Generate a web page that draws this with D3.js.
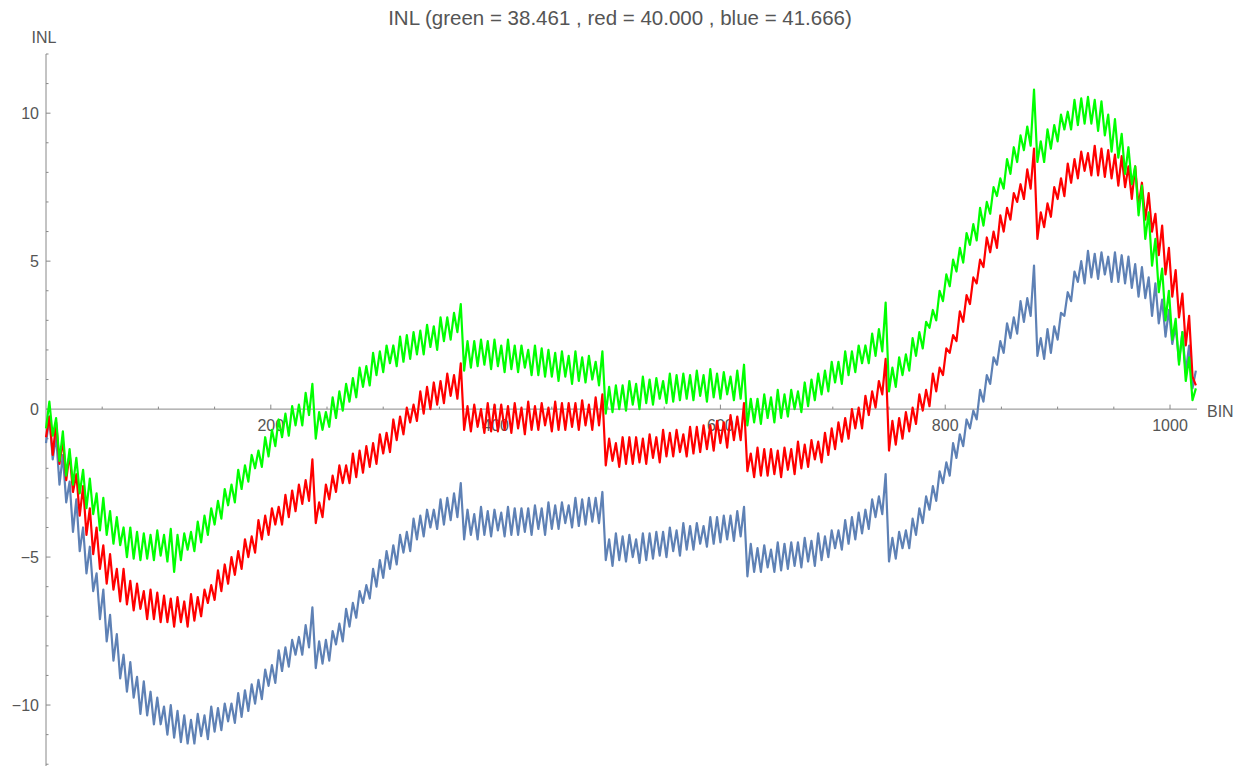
<!DOCTYPE html>
<html>
<head>
<meta charset="utf-8">
<style>
  body { margin: 0; background: #fff; }
  svg { display: block; font-family: "Liberation Sans", Arial, sans-serif; }
</style>
</head>
<body>
<svg id="chart"></svg>
<script src="https://d3js.org/d3.v7.min.js"></script>
<script>
const title = "INL (green = 38.461 , red = 40.000 , blue = 41.666)";
const xLabel = "BIN";
const yLabel = "INL";
const binStep = 3;   // one sample every 3 bins, 0..1023
const xTicks = [200, 400, 600, 800, 1000];
const yTicks = [-10, -5, 0, 5, 10];

const blue = [
  -1.15,-0.25,-1.7,-0.9,-2.55,-1.55,-3.15,-2.45,-4.15,-3.05,-4.8,-4,-5.55,-4.65,-6.15,-5.55,-7.1,-6.1,-7.85,-6.95,
  -8.5,-7.6,-9.1,-8.3,-9.55,-8.55,-9.75,-9.05,-10.3,-9.2,-10.35,-9.55,-10.65,-9.75,-10.65,-10.05,-11,-10,-11.1,-10.2,
  -11.25,-10.35,-11.3,-10.5,-11.3,-10.3,-11.05,-10.35,-11.15,-10.05,-10.9,-10.1,-10.85,-9.95,-10.55,-9.95,-10.6,-9.6,-10.4,-9.5,
  -10.2,-9.3,-9.95,-9.15,-9.8,-8.8,-9.35,-8.65,-9.25,-8.15,-8.85,-8.05,-8.7,-7.8,-8.3,-7.7,-8.3,-7.3,-8.05,-6.7,
  -8.75,-7.85,-8.6,-7.8,-8.5,-7.5,-7.95,-7.25,-7.85,-6.75,-7.35,-6.55,-7.05,-6.15,-6.55,-5.95,-6.4,-5.4,-6,-5.1,
  -5.7,-4.8,-5.4,-4.6,-5.25,-4.25,-4.85,-4.15,-4.8,-3.7,-4.4,-3.6,-4.3,-3.4,-4,-3.4,-4.05,-3.05,-3.9,-3,
  -3.75,-2.85,-3.65,-2.5,-4.4,-3.4,-4.25,-3.55,-4.4,-3.3,-4.25,-3.45,-4.3,-3.4,-4.1,-3.5,-4.3,-3.3,-4.25,-3.35,
  -4.25,-3.35,-4.15,-3.35,-4.25,-3.25,-4.05,-3.35,-4.25,-3.15,-4.05,-3.25,-4.05,-3.15,-3.85,-3.25,-4,-3,-3.95,-3.05,
  -3.9,-3,-3.8,-3,-3.85,-2.8,-5.1,-4.4,-5.3,-4.2,-5.1,-4.3,-5.15,-4.25,-5,-4.4,-5.2,-4.2,-5.1,-4.2,
  -5.05,-4.15,-4.95,-4.15,-5,-4,-4.8,-4.1,-4.95,-3.85,-4.75,-3.95,-4.75,-3.85,-4.55,-3.95,-4.65,-3.65,-4.55,-3.65,
  -4.5,-3.6,-4.4,-3.6,-4.45,-3.45,-4.3,-3.3,-5.65,-4.55,-5.5,-4.7,-5.5,-4.6,-5.35,-4.75,-5.5,-4.5,-5.45,-4.55,
  -5.4,-4.5,-5.3,-4.5,-5.35,-4.35,-5.15,-4.45,-5.3,-4.2,-5.1,-4.3,-5,-4.1,-4.7,-4.1,-4.75,-3.75,-4.55,-3.65,
  -4.4,-3.5,-4.2,-3.4,-4.05,-3.05,-3.65,-2.95,-3.55,-2.2,-5.15,-4.35,-5.05,-4.15,-4.7,-4.1,-4.7,-3.7,-4.25,-3.35,
  -3.85,-2.95,-3.4,-2.6,-3.1,-2.1,-2.5,-1.8,-2.25,-1.15,-1.65,-0.85,-1.25,-0.35,-0.65,-0.05,-0.35,0.65,0.25,1.15,
  0.85,1.75,1.5,2.3,1.9,2.9,2.4,3.1,2.55,3.65,2.95,3.75,3.15,4.85,1.8,2.4,1.7,2.7,1.9,2.8,
  2.35,3.25,3.15,3.95,3.65,4.65,4.3,5,4.25,5.35,4.45,5.25,4.4,5.3,4.55,5.15,4.3,5.3,4.3,5.2,
  4.25,5.15,4.1,4.9,3.8,4.8,3.75,4.45,3.15,4.25,2.9,3.7,2.45,3.35,2.2,2.8,1.6,2.6,1.25,2.15,
  0.7,1.3
];

const red = [
  -0.95,-0.25,-1.55,-0.45,-1.85,-1.05,-2.4,-1.5,-2.8,-2.2,-3.6,-2.6,-4.25,-3.35,-4.9,-4,-5.4,-4.6,-5.9,-4.9,
  -6.1,-5.4,-6.5,-5.4,-6.6,-5.8,-6.8,-5.9,-6.75,-6.15,-7.1,-6.1,-7.1,-6.2,-7.2,-6.3,-7.2,-6.4,-7.35,-6.35,
  -7.2,-6.5,-7.35,-6.25,-7.15,-6.35,-7,-6.1,-6.55,-5.95,-6.45,-5.45,-6.15,-5.25,-5.9,-5,-5.6,-4.8,-5.4,-4.4,
  -5,-4.3,-4.85,-3.75,-4.4,-3.6,-4.25,-3.35,-3.9,-3.3,-3.9,-2.9,-3.65,-2.75,-3.45,-2.55,-3.2,-2.4,-3.1,-1.7,
  -3.85,-3.15,-3.65,-2.55,-3.05,-2.25,-2.8,-1.9,-2.5,-1.9,-2.5,-1.5,-2.3,-1.4,-2.15,-1.25,-1.95,-1.15,-1.85,-0.85,
  -1.5,-0.8,-1.45,-0.35,-1.05,-0.25,-0.85,0.05,-0.45,0.15,-0.4,0.6,-0.15,0.75,0,0.9,0.15,0.95,0.2,1.2,
  0.45,1.15,0.35,1.55,-0.7,0.1,-0.75,0.15,-0.6,0,-0.8,0.2,-0.75,0.15,-0.75,0.15,-0.7,0.1,-0.8,0.2,
  -0.65,0.05,-0.85,0.25,-0.7,0.1,-0.7,0.2,-0.55,0.05,-0.75,0.25,-0.7,0.2,-0.7,0.2,-0.6,0.2,-0.7,0.3,
  -0.55,0.15,-0.7,0.4,-0.55,0.5,-1.9,-1,-1.75,-1.15,-1.95,-0.95,-1.85,-0.95,-1.85,-0.95,-1.8,-1,-1.85,-0.85,
  -1.65,-0.95,-1.8,-0.7,-1.6,-0.8,-1.6,-0.7,-1.45,-0.85,-1.6,-0.6,-1.5,-0.6,-1.45,-0.55,-1.35,-0.55,-1.4,-0.4,
  -1.15,-0.45,-1.3,-0.2,-1.05,-0.25,-1.05,0.2,-2.1,-1.5,-2.3,-1.3,-2.25,-1.35,-2.25,-1.35,-2.2,-1.4,-2.3,-1.3,
  -2.05,-1.35,-2.2,-1.1,-2,-1.2,-1.95,-1.05,-1.7,-1.1,-1.8,-0.8,-1.55,-0.65,-1.35,-0.45,-1.1,-0.3,-1,0,
  -0.65,0.05,-0.65,0.45,-0.2,0.6,0.05,0.95,0.5,1.7,-1.4,-0.4,-1.2,-0.3,-1,-0.1,-0.75,0.05,-0.5,0.5,
  -0.05,0.65,0.1,1.2,0.6,1.4,1.15,2.05,1.9,2.5,2.3,3.3,2.95,3.85,3.55,4.45,4.25,5.05,4.8,5.8,
  5.3,6,5.45,6.55,6,6.8,6.4,7.3,7,7.6,7.1,8.1,7.45,8.8,5.75,6.65,6.15,6.95,6.5,7.5,
  7.1,7.8,7.2,8.3,7.65,8.45,7.8,8.7,8.05,8.65,7.9,8.9,7.9,8.8,7.85,8.75,7.8,8.6,7.55,8.55,
  7.5,8.2,7.1,8.2,6.85,7.65,6.4,7.3,6,6.6,5.2,6.2,4.55,5.45,3.8,4.7,3.1,3.9,2.15,3.15,
  1.1,0.8
];

const green = [
  -0.65,0.25,-0.9,-0.3,-1.75,-0.75,-2.25,-1.35,-2.55,-1.65,-2.85,-2.05,-3.35,-2.35,-3.55,-2.85,-4.1,-3,-4.25,-3.45,
  -4.55,-3.65,-4.6,-4,-5,-4,-5.05,-4.15,-5.1,-4.2,-5.05,-4.25,-5.1,-4.1,-4.95,-4.25,-5.15,-4.05,-5.5,-4.25,
  -5.1,-4.2,-4.75,-4.15,-4.8,-3.8,-4.5,-3.6,-4.25,-3.35,-3.9,-3.1,-3.7,-2.7,-3.25,-2.55,-3.15,-2.05,-2.7,-1.9,
  -2.45,-1.55,-2,-1.4,-1.95,-0.95,-1.6,-0.7,-1.25,-0.35,-0.95,-0.15,-0.9,0.1,-0.55,0.15,-0.55,0.55,-0.2,0.85,
  -1,-0.1,-0.7,-0.1,-0.6,0.4,-0.3,0.6,-0.05,0.85,0.25,1.05,0.4,1.4,0.75,1.45,0.8,1.9,1.15,1.95,
  1.25,2.15,1.55,2.15,1.45,2.45,1.6,2.5,1.7,2.6,1.85,2.65,1.85,2.85,2.1,2.8,2,3.1,2.3,3.1,
  2.35,3.25,2.6,3.55,1.3,2.3,1.4,2.3,1.45,2.35,1.5,2.3,1.35,2.35,1.45,2.15,1.25,2.35,1.35,2.15,
  1.25,2.15,1.4,2,1.15,2.15,1.15,2.05,1.1,2,1.1,1.9,0.95,1.95,1.1,1.8,0.85,1.95,0.95,1.75,
  0.9,1.8,1,1.6,0.8,1.95,-0.15,0.75,-0.1,0.8,0,0.8,-0.05,0.95,0.15,0.85,0,1.1,0.2,1,
  0.15,1.05,0.35,0.95,0.2,1.2,0.25,1.15,0.3,1.2,0.35,1.15,0.3,1.3,0.45,1.15,0.25,1.35,0.4,1.2,
  0.35,1.25,0.5,1.1,0.3,1.3,0.35,1.5,-0.55,0.35,-0.45,0.35,-0.5,0.5,-0.3,0.4,-0.45,0.65,-0.3,0.5,
  -0.25,0.65,0,0.6,-0.1,0.9,0.1,1,0.3,1.2,0.5,1.3,0.6,1.6,0.9,1.6,0.85,1.95,1.15,1.95,
  1.25,2.15,1.55,2.15,1.55,2.55,1.8,2.7,1.95,3.6,0.6,1.4,0.75,1.75,1.15,1.85,1.3,2.4,1.8,2.6,
  2.05,2.95,2.75,3.35,3,4,3.65,4.55,4.15,5.05,4.65,5.45,4.95,5.95,5.55,6.25,5.7,6.8,6.2,7,
  6.6,7.5,7.2,7.8,7.45,8.45,7.95,8.85,8.35,9.25,8.75,9.55,8.9,10.8,8.35,9.05,8.35,9.45,8.8,9.6,
  9.05,9.95,9.45,10.05,9.45,10.45,9.6,10.5,9.65,10.55,9.65,10.45,9.4,10.4,9.25,9.95,8.7,9.8,8.5,9.3,
  7.95,8.85,7.6,8.2,6.55,7.55,5.75,6.65,4.85,5.75,3.95,4.75,3,4,2.35,3.05,1.5,2.6,0.95,1.75,
  0.3,0.7
];

const series = [
  { name: "blue", values: blue, color: "#5e81b5" },
  { name: "red", values: red, color: "#ff0000" },
  { name: "green", values: green, color: "#00ff00" }
];

const width = 1238, height = 766;
const svg = d3.select("#chart").attr("width", width).attr("height", height);

const x = d3.scaleLinear().domain([0, 1024]).range([46, 1197]);
const y = d3.scaleLinear().domain([-12.06, 12]).range([766, 54]);

const axisColor = "#888";
const textColor = "#555";

// axes
const axes = svg.append("g");
axes.append("line")
  .attr("x1", x(0)).attr("x2", x(1024))
  .attr("y1", y(0)).attr("y2", y(0))
  .attr("stroke", axisColor).attr("stroke-width", 1);
axes.append("line")
  .attr("x1", x(0)).attr("x2", x(0))
  .attr("y1", y(12)).attr("y2", y(-12.06))
  .attr("stroke", axisColor).attr("stroke-width", 1);

// x ticks, major every 200, minor every 50
const xMinor = d3.range(50, 1024, 50).filter(v => !xTicks.includes(v));
axes.selectAll(".xminor").data(xMinor).enter().append("line")
  .attr("x1", d => x(d)).attr("x2", d => x(d))
  .attr("y1", y(0)).attr("y2", y(0) - 2.5)
  .attr("stroke", axisColor);
axes.selectAll(".xmajor").data(xTicks).enter().append("line")
  .attr("x1", d => x(d)).attr("x2", d => x(d))
  .attr("y1", y(0)).attr("y2", y(0) - 4.5)
  .attr("stroke", axisColor);
axes.selectAll(".xlab").data(xTicks).enter().append("text")
  .attr("x", d => x(d)).attr("y", y(0) + 22)
  .attr("text-anchor", "middle")
  .attr("font-size", 16).attr("fill", textColor)
  .text(d => d);

// y ticks, major every 5, minor every 1
const yMinor = d3.range(-12, 13, 1).filter(v => !yTicks.includes(v));
axes.selectAll(".yminor").data(yMinor).enter().append("line")
  .attr("x1", x(0)).attr("x2", x(0) + 2.5)
  .attr("y1", d => y(d)).attr("y2", d => y(d))
  .attr("stroke", axisColor);
axes.selectAll(".ymajor").data(yTicks).enter().append("line")
  .attr("x1", x(0)).attr("x2", x(0) + 4.5)
  .attr("y1", d => y(d)).attr("y2", d => y(d))
  .attr("stroke", axisColor);
axes.selectAll(".ylab").data(yTicks).enter().append("text")
  .attr("x", x(0) - 7).attr("y", d => y(d) + 6)
  .attr("text-anchor", "end")
  .attr("font-size", 16).attr("fill", textColor)
  .text(d => d < 0 ? "\u2212" + Math.abs(d) : d);

// axis labels and title
svg.append("text").attr("x", x(0) - 2).attr("y", 43)
  .attr("text-anchor", "middle").attr("font-size", 16).attr("fill", textColor)
  .text(yLabel);
svg.append("text").attr("x", 1207).attr("y", y(0) + 8)
  .attr("font-size", 16).attr("fill", textColor)
  .text(xLabel);
svg.append("text").attr("x", 620).attr("y", 25)
  .attr("text-anchor", "middle").attr("font-size", 20.5).attr("fill", textColor)
  .text(title);

// the three INL traces
const line = d3.line()
  .x((d, i) => x(i * binStep))
  .y(d => y(d));

svg.append("g").selectAll("path").data(series).enter().append("path")
  .attr("d", d => line(d.values))
  .attr("fill", "none")
  .attr("stroke", d => d.color)
  .attr("stroke-width", 2.2)
  .attr("stroke-linejoin", "round");
</script>
</body>
</html>
